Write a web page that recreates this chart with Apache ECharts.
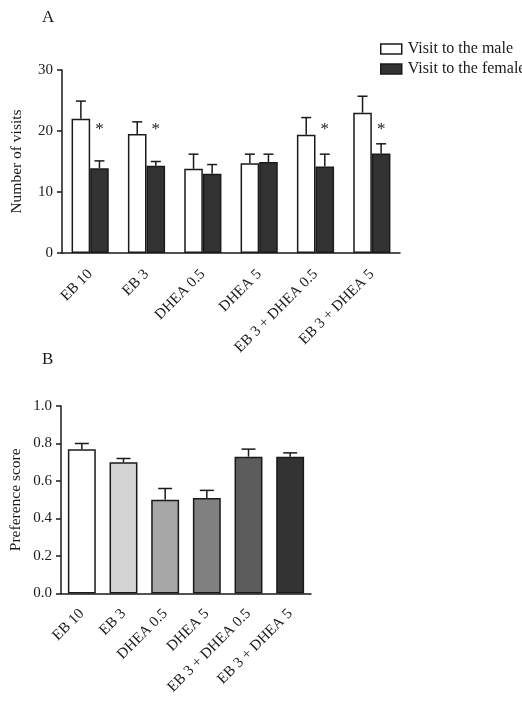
<!DOCTYPE html>
<html>
<head>
<meta charset="utf-8">
<script src="https://cdn.jsdelivr.net/npm/echarts@6/dist/echarts.min.js"></script>
<style>html,body{margin:0;padding:0;background:#fff;}#chart{width:522px;height:713px;}</style>
</head>
<body>
<div id="chart"></div>
<script>
var categories = ['EB 10', 'EB 3', 'DHEA 0.5', 'DHEA 5', 'EB 3 + DHEA 0.5', 'EB 3 + DHEA 5'];
var maleVisits = [22.0, 19.5, 13.8, 14.7, 19.4, 23.0];
var maleErr = [2.9, 2.0, 2.4, 1.5, 2.8, 2.7];
var femaleVisits = [13.9, 14.3, 13.0, 14.9, 14.2, 16.3];
var femaleErr = [1.2, 0.7, 1.5, 1.3, 2.0, 1.6];
var significant = [1, 1, 0, 0, 1, 1];
var asteriskLevel = 20.8;

var prefScore = [0.77, 0.70, 0.50, 0.51, 0.73, 0.73];
var prefErr = [0.03, 0.02, 0.06, 0.04, 0.04, 0.02];
var prefColors = ['#ffffff', '#d4d4d4', '#a6a6a6', '#808080', '#5c5c5c', '#333333'];

var FONT = '"Liberation Serif", "DejaVu Serif", serif';
var INK = '#1a1a1a';
var GAP_A = 0.34;
var GAP_B = 0.33;

var chart = echarts.init(document.getElementById('chart'));

function axisY(gridIndex, name, maxV, interval, decimals) {
  return {
    type: 'value', gridIndex: gridIndex, min: 0, max: maxV, interval: interval,
    name: name, nameLocation: 'middle', nameGap: 37,
    nameTextStyle: { fontFamily: FONT, fontSize: 15.5, color: INK },
    axisLine: { show: true, lineStyle: { color: INK, width: 1.5 } },
    axisTick: { show: true, length: 5, lineStyle: { color: INK, width: 1.5 } },
    axisLabel: { margin: 9, fontFamily: FONT, fontSize: 15, color: INK,
      formatter: function (v) { return decimals ? v.toFixed(decimals) : String(v); } },
    splitLine: { show: false }
  };
}
function axisX(gridIndex, margin) {
  return {
    type: 'category', gridIndex: gridIndex, data: categories,
    axisLine: { show: true, lineStyle: { color: INK, width: 1.5 } },
    axisTick: { show: false },
    axisLabel: { rotate: 45, margin: margin, fontFamily: FONT, fontSize: 15, color: INK, interval: 0 }
  };
}

function errLine(x1, y1, x2, y2) {
  return { type: 'line', shape: { x1: x1, y1: y1, x2: x2, y2: y2 },
    style: { stroke: INK, lineWidth: 1.5 } };
}

chart.setOption({
  animation: false,
  backgroundColor: '#ffffff',
  title: [
    { text: 'A', left: 37, top: 4, textStyle: { fontFamily: FONT, fontSize: 17, fontWeight: 'normal', color: INK } },
    { text: 'B', left: 37, top: 346, textStyle: { fontFamily: FONT, fontSize: 17, fontWeight: 'normal', color: INK } }
  ],
  legend: {
    data: ['Visit to the male', 'Visit to the female'],
    orient: 'vertical', left: 375, top: 36, itemWidth: 21, itemHeight: 10, itemGap: 4,
    icon: 'rect',
    itemStyle: { borderColor: INK, borderWidth: 1.5 },
    textStyle: { fontFamily: FONT, fontSize: 16, color: INK, padding: [0, 0, 0, 1] }
  },
  grid: [
    { left: 62, top: 70, width: 338, height: 183 },
    { left: 61, top: 406, width: 250, height: 187.5 }
  ],
  xAxis: [axisX(0, 19), axisX(1, 18)],
  yAxis: [axisY(0, 'Number of visits', 30, 10, 0), axisY(1, 'Preference score', 1.0, 0.2, 1)],
  series: [
    {
      name: 'Visit to the male', type: 'bar', xAxisIndex: 0, yAxisIndex: 0,
      data: maleVisits, barGap: '0%', barCategoryGap: (GAP_A * 100) + '%',
      itemStyle: { color: '#ffffff', borderColor: INK, borderWidth: 1.5 }
    },
    {
      name: 'Visit to the female', type: 'bar', xAxisIndex: 0, yAxisIndex: 0,
      data: femaleVisits, barGap: '0%', barCategoryGap: (GAP_A * 100) + '%',
      itemStyle: { color: '#333333', borderColor: INK, borderWidth: 1.5 }
    },
    {
      type: 'custom', xAxisIndex: 0, yAxisIndex: 0, z: 5,
      data: categories.map(function (c, i) {
        return [i, maleVisits[i], maleVisits[i] + maleErr[i], femaleVisits[i], femaleVisits[i] + femaleErr[i], significant[i]];
      }),
      encode: { x: 0, y: [1, 2, 3, 4] },
      renderItem: function (params, api) {
        var i = api.value(0);
        var band = api.size([1, 0])[0];
        var bw = band * (1 - GAP_A) / 2;
        var cx = api.coord([i, 0])[0];
        var kids = [];
        [[-1, 1, 2], [1, 3, 4]].forEach(function (d) {
          var x = cx + d[0] * bw / 2;
          var yb = api.coord([i, api.value(d[1])])[1];
          var yt = api.coord([i, api.value(d[2])])[1];
          kids.push(errLine(x, yb, x, yt));
          kids.push(errLine(x - 5, yt, x + 5, yt));
        });
        if (api.value(5)) {
          var ya = api.coord([i, asteriskLevel])[1];
          kids.push({ type: 'text', style: { text: '*', x: cx + bw / 2, y: ya + 3,
            align: 'center', verticalAlign: 'middle', font: '17px ' + FONT, fill: INK } });
        }
        return { type: 'group', children: kids };
      }
    },
    {
      name: 'Preference score', type: 'bar', xAxisIndex: 1, yAxisIndex: 1,
      barCategoryGap: (GAP_B * 100) + '%',
      data: prefScore.map(function (v, i) {
        return { value: v, itemStyle: { color: prefColors[i] } };
      }),
      itemStyle: { borderColor: INK, borderWidth: 1.5 }
    },
    {
      type: 'custom', xAxisIndex: 1, yAxisIndex: 1, z: 5,
      data: categories.map(function (c, i) { return [i, prefScore[i], prefScore[i] + prefErr[i]]; }),
      encode: { x: 0, y: [1, 2] },
      renderItem: function (params, api) {
        var i = api.value(0);
        var cx = api.coord([i, 0])[0];
        var yb = api.coord([i, api.value(1)])[1];
        var yt = api.coord([i, api.value(2)])[1];
        return { type: 'group', children: [errLine(cx, yb, cx, yt), errLine(cx - 7, yt, cx + 7, yt)] };
      }
    }
  ]
});
</script>
</body>
</html>
